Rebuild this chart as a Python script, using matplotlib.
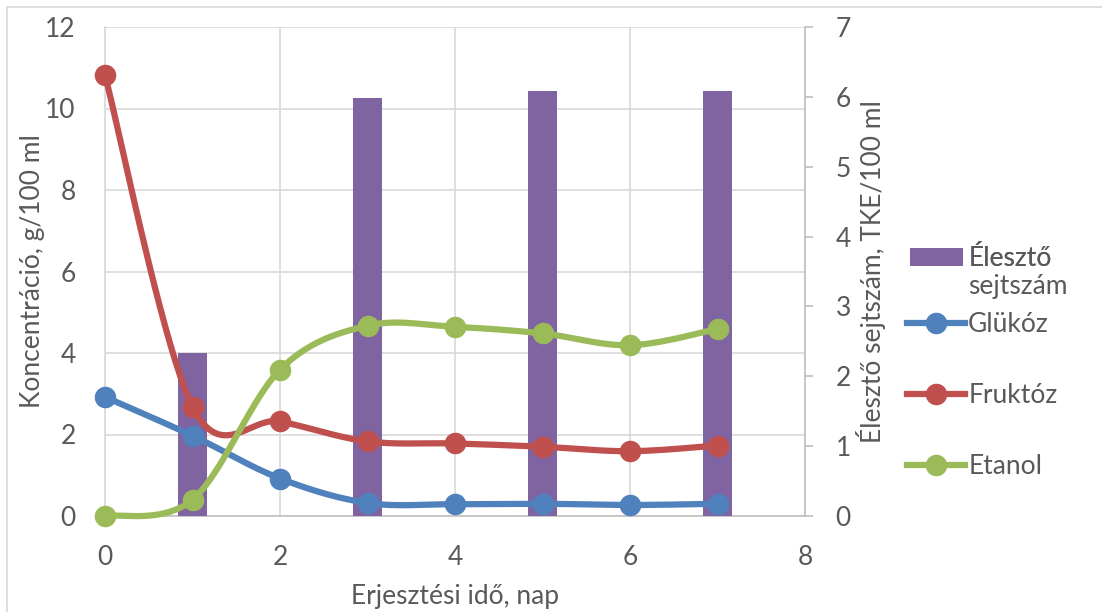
import numpy as np
import matplotlib
matplotlib.use("Agg")
import matplotlib.pyplot as plt
from matplotlib.patches import Rectangle, Patch
from matplotlib.lines import Line2D

plt.rcParams['font.family'] = ['Lato', 'DejaVu Sans']

# ---- data ----
days = [0, 1, 2, 3, 4, 5, 6, 7]
glukoz = [2.92, 1.97, 0.92, 0.32, 0.29, 0.30, 0.27, 0.30]
fruktoz = [10.82, 2.68, 2.32, 1.83, 1.78, 1.70, 1.59, 1.73]
etanol = [0.0, 0.40, 3.59, 4.67, 4.64, 4.48, 4.19, 4.59]
bar_days = [1, 3, 5, 7]
sejtszam = [2.33, 5.98, 6.08, 6.08]

x_ticks = [0, 2, 4, 6, 8]
left_ticks = [0, 2, 4, 6, 8, 10, 12]
right_ticks = [0, 1, 2, 3, 4, 5, 6, 7]

C_BLUE = '#4F81BD'
C_RED = '#C0504D'
C_GREEN = '#9BBB59'
C_PURPLE = '#8064A2'
C_GRID = '#D9D9D9'
C_TEXT = '#595959'
FS = 19


def smooth(x, y, n=40):
    pts = np.column_stack([x, y]).astype(float)
    P = np.vstack([pts[0], pts, pts[-1]])
    out = []
    t = np.linspace(0, 1, n)[:, None]
    for i in range(1, len(P) - 2):
        p0, p1, p2, p3 = P[i - 1], P[i], P[i + 1], P[i + 2]
        c1 = p1 + (p2 - p0) / 6
        c2 = p2 - (p3 - p1) / 6
        seg = (1 - t) ** 3 * p1 + 3 * (1 - t) ** 2 * t * c1 + 3 * (1 - t) * t ** 2 * c2 + t ** 3 * p2
        out.append(seg if i == 1 else seg[1:])
    s = np.vstack(out)
    return s[:, 0], s[:, 1]


W, H = 1102, 612
fig = plt.figure(figsize=(W / 100, H / 100), dpi=100)
fig.patches.append(Rectangle((7 / W, -0.01), 1.0, 1 - 7 / H + 0.01, transform=fig.transFigure,
                             fill=False, edgecolor=C_GRID, linewidth=1.2))

rect = [105 / W, (H - 516) / H, 700 / W, 489 / H]
ax = fig.add_axes(rect)
ax.set_xlim(0, 8)
ax.set_ylim(0, 12)
ax.set_xticks(x_ticks)
ax.set_yticks(left_ticks)
ax.grid(True, color=C_GRID, linewidth=1.2)
ax.set_axisbelow(True)
for s in ['top', 'right']:
    ax.spines[s].set_visible(False)
ax.spines['left'].set_color(C_GRID)
ax.spines['bottom'].set_color('#BFBFBF')
ax.spines['left'].set_linewidth(1.2)
ax.spines['bottom'].set_linewidth(1.2)
ax.tick_params(axis='x', length=0, labelsize=FS, labelcolor=C_TEXT, pad=21)
ax.tick_params(axis='y', length=0, labelsize=FS, labelcolor=C_TEXT, pad=21)
ax.set_xlabel('Erjesztési idő, nap', fontsize=FS, color=C_TEXT)
ax.set_ylabel('Koncentráció, g/100 ml', fontsize=FS, color=C_TEXT)
ax.xaxis.set_label_coords(0.5, -0.139)
ax.yaxis.set_label_coords(-0.086, 0.5)

ax2 = ax.twinx()
ax2.set_ylim(0, 7)
ax2.set_yticks(right_ticks)
ax2.bar(bar_days, sejtszam, width=0.33, color=C_PURPLE, zorder=2)
for s in ['top', 'left', 'bottom']:
    ax2.spines[s].set_visible(False)
ax2.spines['right'].set_color('#BFBFBF')
ax2.spines['right'].set_linewidth(1.2)
ax2.tick_params(axis='y', direction='out', length=6, color='#BFBFBF', width=1.2,
                labelsize=FS, labelcolor=C_TEXT, pad=16)
ax2.set_ylabel('Élesztő sejtszám, TKE/100 ml', fontsize=FS, color=C_TEXT)
ax2.yaxis.set_label_coords(1.073, 0.5)

ax3 = ax.twinx()
ax3.set_ylim(0, 12)
ax3.set_xlim(0, 8)
ax3.axis('off')
for yv, col in [(glukoz, C_BLUE), (fruktoz, C_RED), (etanol, C_GREEN)]:
    sx, sy = smooth(days, yv)
    ax3.plot(sx, sy, color=col, linewidth=4.5, solid_capstyle='round', clip_on=False, zorder=3)
    ax3.plot(days, yv, 'o', color=col, markersize=14.5, clip_on=False, zorder=4)

h_bar = Patch(facecolor=C_PURPLE)
leg1 = fig.legend([h_bar], ['Élesztő'], loc='upper left',
                  bbox_to_anchor=(910 / W, 1 - 246 / H), frameon=False, fontsize=FS,
                  borderpad=0, borderaxespad=0,
                  handlelength=2.0, handleheight=0.66, handletextpad=0.22, labelcolor=C_TEXT)
fig.add_artist(leg1)
fig.text(968 / W, 1 - 294 / H, 'sejtszám', fontsize=FS, color=C_TEXT, ha='left', va='baseline')

h_lines = [Line2D([], [], color=c, linewidth=4.5, marker='o', markersize=14.5)
           for c in (C_BLUE, C_RED, C_GREEN)]
leg2 = fig.legend(h_lines, ['Glükóz', 'Fruktóz', 'Etanol'], loc='upper left',
                  bbox_to_anchor=(907 / W, 1 - 312 / H), frameon=False, fontsize=FS,
                  borderpad=0, borderaxespad=0,
                  handlelength=2.2, handletextpad=0.12, labelspacing=1.75, labelcolor=C_TEXT)

fig.savefig('out.png', dpi=100)
